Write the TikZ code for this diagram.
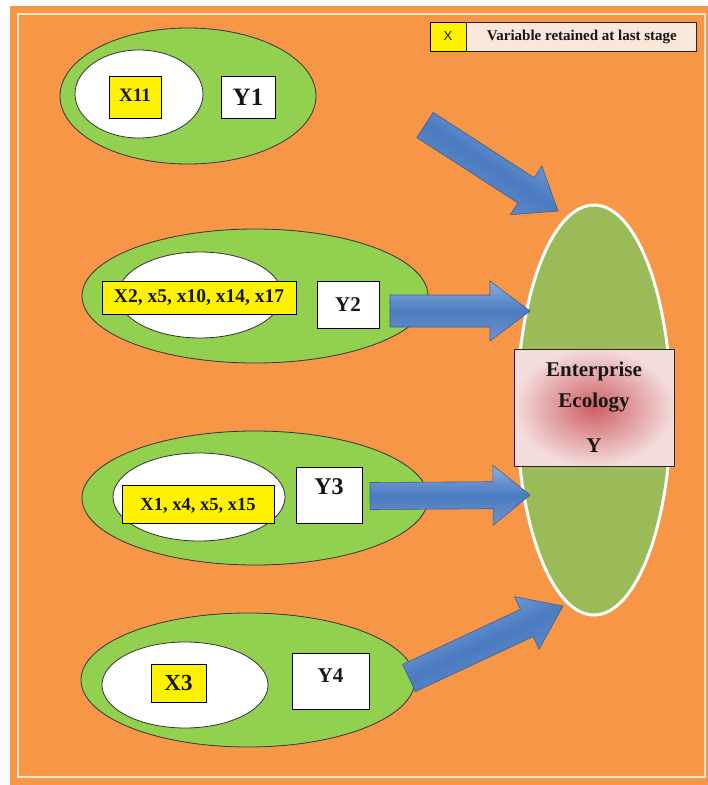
\documentclass[tikz,border=0pt]{standalone}
\usepackage{fontspec}
\setmainfont{Liberation Serif}
\newfontfamily\legendsans{Liberation Sans}
\usetikzlibrary{shapes.geometric,calc}

\definecolor{bgorange}{HTML}{F79646}
\definecolor{framecream}{HTML}{FCE4CC}
\definecolor{leafgreen}{HTML}{92D050}
\definecolor{coregreen}{HTML}{9BBB59}
\definecolor{arrowlight}{HTML}{8EAFE0}
\definecolor{arrowmid}{HTML}{4A7BC0}
\definecolor{arrowdark}{HTML}{6F95CD}
\definecolor{arrowedge}{HTML}{3B5F92}
\definecolor{corered}{HTML}{CF5E63}
\definecolor{corepale}{HTML}{F3DCDB}
\definecolor{legendpeach}{HTML}{FBE6DA}
\definecolor{inktext}{HTML}{161616}

\tikzset{
  leaf/.style={ellipse, fill=leafgreen, draw=black!80, line width=0.8pt, inner sep=0pt},
  hole/.style={ellipse, fill=white, draw=black!80, line width=0.8pt, inner sep=0pt},
  varbox/.style={rectangle, fill=yellow, draw=black, line width=0.9pt, inner sep=0pt, text=inktext},
  ybox/.style={rectangle, fill=white, draw=black, line width=0.9pt, inner sep=0pt, text=inktext},
  flow/.style={draw=arrowedge, line width=0.6pt, top color=arrowlight, bottom color=arrowdark, middle color=arrowmid},
  bsize/.style={font=\bfseries\fontsize{#1}{#1}\selectfont},
}

% block arrow: tail, tip, half shaft width, half head width, head length, shading angle
\newcommand{\flowarrow}[6]{%
  \path ($(#2)!#5!(#1)$) coordinate (neck);
  \path[flow, shading angle=#6]
    ($(#1)!#3!90:(#2)$) -- ($(neck)!#3!90:(#2)$) -- ($(neck)!#4!90:(#2)$) -- (#2)
    -- ($(neck)!#4!-90:(#2)$) -- ($(neck)!#3!-90:(#2)$) -- ($(#1)!#3!-90:(#2)$) -- cycle;
}

\begin{document}
\begin{tikzpicture}[x=1pt,y=-1pt]
\useasboundingbox (0,0) rectangle (708,785);

% background panel and inner frame
\fill[bgorange] (10,6) rectangle (708,785);
\draw[framecream, line width=2pt] (17.5,13.5) rectangle (705,776.5);

% legend
\node[varbox, minimum width=36pt, minimum height=29pt, font=\legendsans\fontsize{13}{13}\selectfont] (legx) at (448,36.5) {X};
\node[rectangle, fill=legendpeach, draw=black!85, line width=0.9pt, inner sep=0pt,
      minimum width=230pt, minimum height=29pt, anchor=west, text=inktext, bsize=15] (legtxt) at (legx.east) {Variable retained at last stage};

% group 1
\node[leaf, minimum width=256pt, minimum height=136pt] (g1) at (188,96) {};
\node[hole, minimum width=128pt, minimum height=88pt] (h1) at (139,94) {};
\node[varbox, minimum width=52pt, minimum height=42pt, bsize=19, text depth=4pt] (v1) at (135,97) {X11};
\node[ybox, minimum width=54pt, minimum height=42pt, bsize=25] (y1) at (248,97) {Y1};

% group 2
\node[leaf, minimum width=346pt, minimum height=134pt] (g2) at (255,296) {};
\node[hole, minimum width=164pt, minimum height=86pt] (h2) at (200,295) {};
\node[varbox, minimum width=194pt, minimum height=33pt, bsize=19.5] (v2) at (199,297.5) {X2, x5, x10, x14, x17};
\node[ybox, minimum width=62pt, minimum height=47pt, bsize=21] (y2) at (348,304.5) {Y2};

% group 3
\node[leaf, minimum width=346pt, minimum height=134pt] (g3) at (255,498) {};
\node[hole, minimum width=172pt, minimum height=88pt] (h3) at (199,497) {};
\node[varbox, minimum width=152pt, minimum height=38pt, bsize=18.5, text depth=0pt] (v3) at (198,504) {X1, x4, x5, x15};
\node[ybox, minimum width=66pt, minimum height=56pt, bsize=24, text depth=17pt] (y3) at (329,495) {Y3};

% group 4
\node[leaf, minimum width=334pt, minimum height=134pt] (g4) at (248,680) {};
\node[hole, minimum width=166pt, minimum height=86pt] (h4) at (185,685) {};
\node[varbox, minimum width=55pt, minimum height=38pt, bsize=23] (v4) at (178.5,683) {X3};
\node[ybox, minimum width=77pt, minimum height=56pt, bsize=21, text depth=10pt] (y4) at (330.5,681) {Y4};

% target
\node[ellipse, fill=coregreen, draw=white, line width=3pt, inner sep=0pt,
      minimum width=154pt, minimum height=410pt] (core) at (594,410) {};

% flow arrows
\coordinate (a1s) at (425,125);  \coordinate (a1e) at (558,211);
\coordinate (a2s) at (390,311);  \coordinate (a2e) at (530,311);
\coordinate (a3s) at (370,496);  \coordinate (a3e) at (530,495);
\coordinate (a4s) at (409,678);  \coordinate (a4e) at (563,606);
\flowarrow{a1s}{a1e}{15pt}{29pt}{38pt}{-33}
\flowarrow{a2s}{a2e}{16pt}{30pt}{40pt}{0}
\flowarrow{a3s}{a3e}{13.5pt}{30pt}{37pt}{0}
\flowarrow{a4s}{a4e}{15pt}{29pt}{40pt}{25}

% target label
\node[rectangle, draw=black!85, line width=0.9pt, inner color=corered, outer color=corepale,
      minimum width=160pt, minimum height=117pt, inner sep=0pt, align=center, text=inktext,
      font=\bfseries\fontsize{21}{31}\selectfont] (ylabel) at (594,407.5)
      {Enterprise\\Ecology\\[14pt]Y};

\end{tikzpicture}
\end{document}
